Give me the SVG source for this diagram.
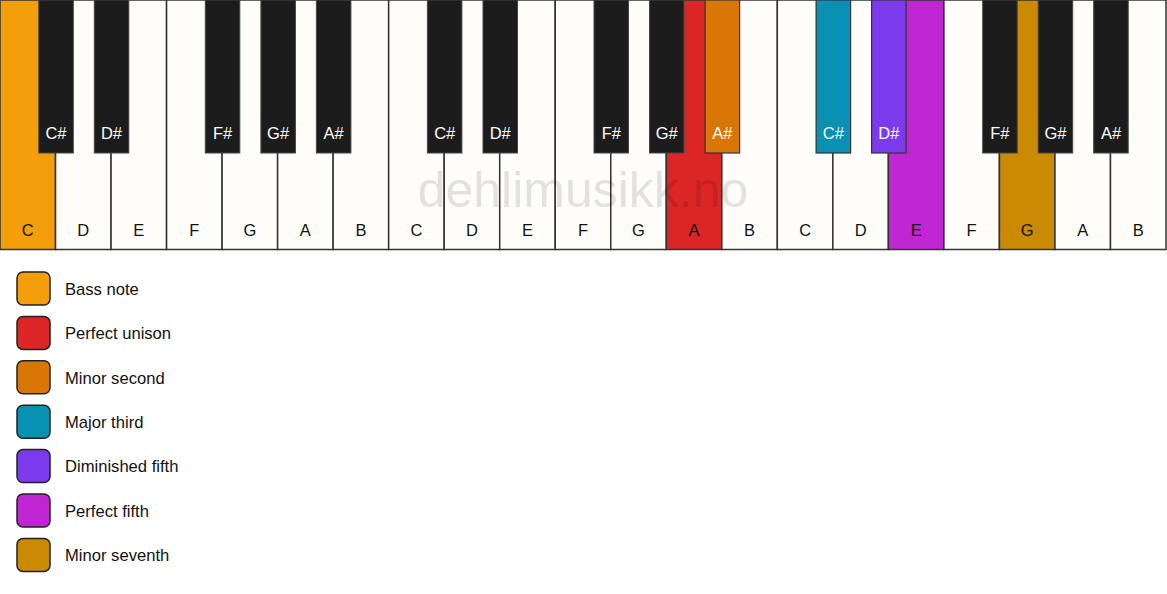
<svg xmlns="http://www.w3.org/2000/svg" width="1167" height="594" viewBox="0 0 1167 594">
<style>
.w{fill:#fffdf9;stroke:#333;stroke-width:1.5}
.b{fill:#1c1c1c;stroke:#444;stroke-width:1}
.bc{stroke:#333;stroke-width:1.2}
.wl{font-family:"Liberation Sans",Arial,sans-serif;font-size:16.5px;fill:#111;text-anchor:middle}
.bl{font-family:"Liberation Sans",Arial,sans-serif;font-size:16.5px;fill:#fff;text-anchor:middle}
.sw{stroke:#222;stroke-width:1.5}
.lt{font-family:"Liberation Sans",Arial,sans-serif;font-size:16.6px;fill:#111}
.wm{font-family:"Liberation Sans",Arial,sans-serif;font-size:50px;fill:#000;fill-opacity:0.11;text-anchor:middle}
</style>
<rect width="1167" height="594" fill="#ffffff"/>
<g id="white-keys">
<g id="w0"><rect class="w" x="0" y="0" width="55.52" height="249.5" style="fill:#f59e0b"/><text class="wl" x="27.76" y="236">C</text></g>
<g id="w1"><rect class="w" x="55.52" y="0" width="55.52" height="249.5"/><text class="wl" x="83.29" y="236">D</text></g>
<g id="w2"><rect class="w" x="111.05" y="0" width="55.52" height="249.5"/><text class="wl" x="138.81" y="236">E</text></g>
<g id="w3"><rect class="w" x="166.57" y="0" width="55.52" height="249.5"/><text class="wl" x="194.33" y="236">F</text></g>
<g id="w4"><rect class="w" x="222.10" y="0" width="55.52" height="249.5"/><text class="wl" x="249.86" y="236">G</text></g>
<g id="w5"><rect class="w" x="277.62" y="0" width="55.52" height="249.5"/><text class="wl" x="305.38" y="236">A</text></g>
<g id="w6"><rect class="w" x="333.14" y="0" width="55.52" height="249.5"/><text class="wl" x="360.90" y="236">B</text></g>
<g id="w7"><rect class="w" x="388.67" y="0" width="55.52" height="249.5"/><text class="wl" x="416.43" y="236">C</text></g>
<g id="w8"><rect class="w" x="444.19" y="0" width="55.52" height="249.5"/><text class="wl" x="471.95" y="236">D</text></g>
<g id="w9"><rect class="w" x="499.71" y="0" width="55.52" height="249.5"/><text class="wl" x="527.48" y="236">E</text></g>
<g id="w10"><rect class="w" x="555.24" y="0" width="55.52" height="249.5"/><text class="wl" x="583.00" y="236">F</text></g>
<g id="w11"><rect class="w" x="610.76" y="0" width="55.52" height="249.5"/><text class="wl" x="638.52" y="236">G</text></g>
<g id="w12"><rect class="w" x="666.29" y="0" width="55.52" height="249.5" style="fill:#dc2626"/><text class="wl" x="694.05" y="236">A</text></g>
<g id="w13"><rect class="w" x="721.81" y="0" width="55.52" height="249.5"/><text class="wl" x="749.57" y="236">B</text></g>
<g id="w14"><rect class="w" x="777.33" y="0" width="55.52" height="249.5"/><text class="wl" x="805.10" y="236">C</text></g>
<g id="w15"><rect class="w" x="832.86" y="0" width="55.52" height="249.5"/><text class="wl" x="860.62" y="236">D</text></g>
<g id="w16"><rect class="w" x="888.38" y="0" width="55.52" height="249.5" style="fill:#c026d3"/><text class="wl" x="916.14" y="236">E</text></g>
<g id="w17"><rect class="w" x="943.90" y="0" width="55.52" height="249.5"/><text class="wl" x="971.67" y="236">F</text></g>
<g id="w18"><rect class="w" x="999.43" y="0" width="55.52" height="249.5" style="fill:#ca8a04"/><text class="wl" x="1027.19" y="236">G</text></g>
<g id="w19"><rect class="w" x="1054.95" y="0" width="55.52" height="249.5"/><text class="wl" x="1082.71" y="236">A</text></g>
<g id="w20"><rect class="w" x="1110.48" y="0" width="55.52" height="249.5"/><text class="wl" x="1138.24" y="236">B</text></g>
</g>
<text id="watermark" class="wm" x="583" y="207">dehlimusikk.no</text>
<g id="black-keys">
<g id="b1"><rect class="b" x="38.8" y="0" width="34.5" height="153"/><text class="bl" x="56.0" y="139">C#</text></g>
<g id="b2"><rect class="b" x="94.3" y="0" width="34.5" height="153"/><text class="bl" x="111.5" y="139">D#</text></g>
<g id="b4"><rect class="b" x="205.3" y="0" width="34.5" height="153"/><text class="bl" x="222.6" y="139">F#</text></g>
<g id="b5"><rect class="b" x="260.9" y="0" width="34.5" height="153"/><text class="bl" x="278.1" y="139">G#</text></g>
<g id="b6"><rect class="b" x="316.4" y="0" width="34.5" height="153"/><text class="bl" x="333.6" y="139">A#</text></g>
<g id="b8"><rect class="b" x="427.4" y="0" width="34.5" height="153"/><text class="bl" x="444.7" y="139">C#</text></g>
<g id="b9"><rect class="b" x="483.0" y="0" width="34.5" height="153"/><text class="bl" x="500.2" y="139">D#</text></g>
<g id="b11"><rect class="b" x="594.0" y="0" width="34.5" height="153"/><text class="bl" x="611.3" y="139">F#</text></g>
<g id="b12"><rect class="b" x="649.5" y="0" width="34.5" height="153"/><text class="bl" x="666.8" y="139">G#</text></g>
<g id="b13"><rect class="b bc" x="705.1" y="0" width="34.5" height="153" style="fill:#d97706"/><text class="bl" x="722.3" y="139">A#</text></g>
<g id="b15"><rect class="b bc" x="816.1" y="0" width="34.5" height="153" style="fill:#0891b2"/><text class="bl" x="833.4" y="139">C#</text></g>
<g id="b16"><rect class="b bc" x="871.6" y="0" width="34.5" height="153" style="fill:#7c3aed"/><text class="bl" x="888.9" y="139">D#</text></g>
<g id="b18"><rect class="b" x="982.7" y="0" width="34.5" height="153"/><text class="bl" x="999.9" y="139">F#</text></g>
<g id="b19"><rect class="b" x="1038.2" y="0" width="34.5" height="153"/><text class="bl" x="1055.5" y="139">G#</text></g>
<g id="b20"><rect class="b" x="1093.7" y="0" width="34.5" height="153"/><text class="bl" x="1111.0" y="139">A#</text></g>
</g>
<g id="legend">
<g id="lg0"><rect class="sw" x="17" y="272" width="33" height="33" rx="6" fill="#f59e0b"/><text class="lt" x="65" y="294.7">Bass note</text></g>
<g id="lg1"><rect class="sw" x="17" y="316.4" width="33" height="33" rx="6" fill="#dc2626"/><text class="lt" x="65" y="339.1">Perfect unison</text></g>
<g id="lg2"><rect class="sw" x="17" y="360.8" width="33" height="33" rx="6" fill="#d97706"/><text class="lt" x="65" y="383.5">Minor second</text></g>
<g id="lg3"><rect class="sw" x="17" y="405.2" width="33" height="33" rx="6" fill="#0891b2"/><text class="lt" x="65" y="427.9">Major third</text></g>
<g id="lg4"><rect class="sw" x="17" y="449.6" width="33" height="33" rx="6" fill="#7c3aed"/><text class="lt" x="65" y="472.3">Diminished fifth</text></g>
<g id="lg5"><rect class="sw" x="17" y="494" width="33" height="33" rx="6" fill="#c026d3"/><text class="lt" x="65" y="516.7">Perfect fifth</text></g>
<g id="lg6"><rect class="sw" x="17" y="538.4" width="33" height="33" rx="6" fill="#ca8a04"/><text class="lt" x="65" y="561.1">Minor seventh</text></g>
</g>
</svg>
